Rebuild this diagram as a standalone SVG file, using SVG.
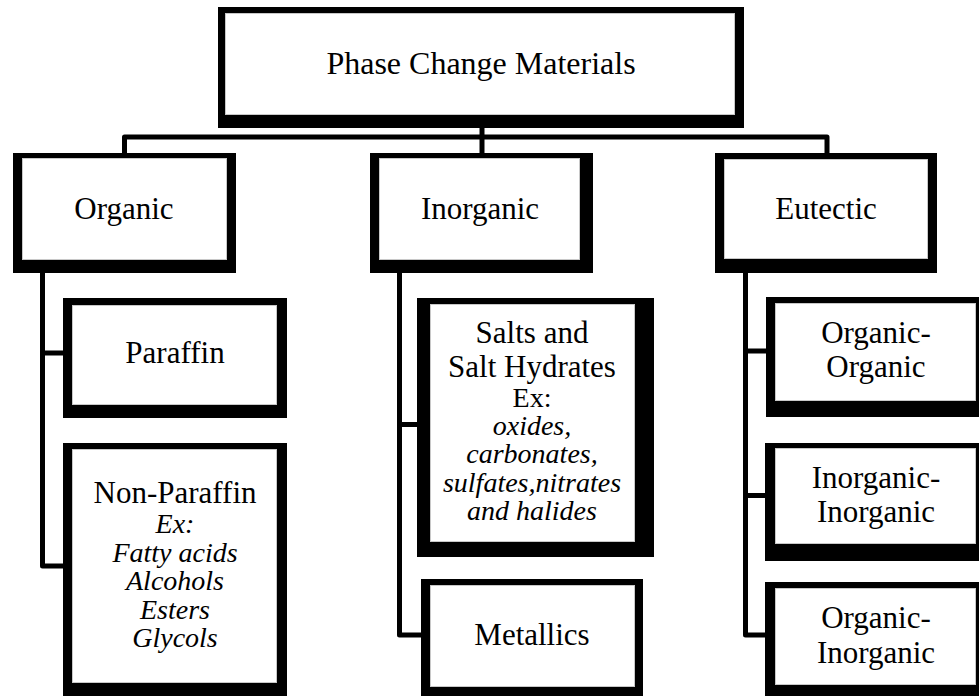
<svg xmlns="http://www.w3.org/2000/svg" width="979" height="696" viewBox="0 0 979 696">
<style>
.o{fill:#000}
.i{fill:#fff;stroke:#c8c8c8;stroke-width:1}
.t{font-family:"Liberation Serif","Times New Roman",serif;font-size:31px;fill:#000;text-anchor:middle}
.s{font-size:28px}
.it{font-style:italic;font-size:28px}
.c{fill:none;stroke:#000;stroke-width:5;stroke-linejoin:round}
</style>
<rect width="979" height="696" fill="#fff"/>
<g id="connectors">
<path class="c" d="M124.5,153 V137 H827 V153"/>
<path class="c" d="M482,128 V153"/>
<path class="c" d="M42.5,273 V566 H63 M42.5,353 H63"/>
<path class="c" d="M399.5,273 V635 H421 M399.5,424.5 H417"/>
<path class="c" d="M745.5,273 V635 H765 M745.5,351 H766 M745.5,495.5 H765"/>
</g>
<g id="pcm">
<rect class="o" x="218" y="7" width="526" height="121"/>
<rect class="i" x="225.5" y="13.5" width="509" height="101"/>
<text class="t" x="481" y="74" style="font-size:32px">Phase Change Materials</text>
</g>
<g id="organic">
<rect class="o" x="13" y="153" width="223" height="120"/>
<rect class="i" x="22.5" y="158.5" width="204" height="101"/>
<text class="t" x="124" y="219">Organic</text>
</g>
<g id="inorganic">
<rect class="o" x="370" y="153" width="223" height="120"/>
<rect class="i" x="379.5" y="158.5" width="200" height="101"/>
<text class="t" x="480" y="219">Inorganic</text>
</g>
<g id="eutectic">
<rect class="o" x="715" y="153" width="222" height="120"/>
<rect class="i" x="724.5" y="159.5" width="203" height="99"/>
<text class="t" x="826" y="219">Eutectic</text>
</g>
<g id="paraffin">
<rect class="o" x="63" y="298" width="224" height="120"/>
<rect class="i" x="72.5" y="305.5" width="204" height="99"/>
<text class="t" x="175" y="363">Paraffin</text>
</g>
<g id="nonparaffin">
<rect class="o" x="63" y="443" width="224" height="260"/>
<rect class="i" x="72.5" y="449.5" width="204" height="233"/>
<text class="t" x="175" y="503">Non-Paraffin</text>
<text class="t it" x="175" y="533">Ex:</text>
<text class="t it" x="175" y="562">Fatty acids</text>
<text class="t it" x="175" y="590">Alcohols</text>
<text class="t it" x="175" y="619">Esters</text>
<text class="t it" x="175" y="647">Glycols</text>
</g>
<g id="salts">
<rect class="o" x="417" y="298" width="237" height="259"/>
<rect class="i" x="430.5" y="304.5" width="204" height="237"/>
<text class="t" x="532" y="343">Salts and</text>
<text class="t" x="532" y="377">Salt Hydrates</text>
<text class="t s" x="532" y="407">Ex:</text>
<text class="t it" x="532" y="435">oxides,</text>
<text class="t it" x="532" y="463">carbonates,</text>
<text class="t it" x="532" y="492">sulfates,nitrates</text>
<text class="t it" x="532" y="520">and halides</text>
</g>
<g id="metallics">
<rect class="o" x="421" y="579" width="222" height="124"/>
<rect class="i" x="430.5" y="585.5" width="204" height="101"/>
<text class="t" x="532" y="645">Metallics</text>
</g>
<g id="orgorg">
<rect class="o" x="766" y="297" width="220" height="120"/>
<rect class="i" x="775.5" y="303.5" width="200" height="97"/>
<text class="t" x="876" y="343">Organic-</text>
<text class="t" x="876" y="377">Organic</text>
</g>
<g id="inorginorg">
<rect class="o" x="765" y="443" width="221" height="118"/>
<rect class="i" x="775.5" y="448.5" width="200" height="95"/>
<text class="t" x="876" y="488">Inorganic-</text>
<text class="t" x="876" y="522">Inorganic</text>
</g>
<g id="orginorg">
<rect class="o" x="765" y="582" width="221" height="121"/>
<rect class="i" x="775.5" y="588.5" width="200" height="96"/>
<text class="t" x="876" y="628">Organic-</text>
<text class="t" x="876" y="663">Inorganic</text>
</g>
</svg>
